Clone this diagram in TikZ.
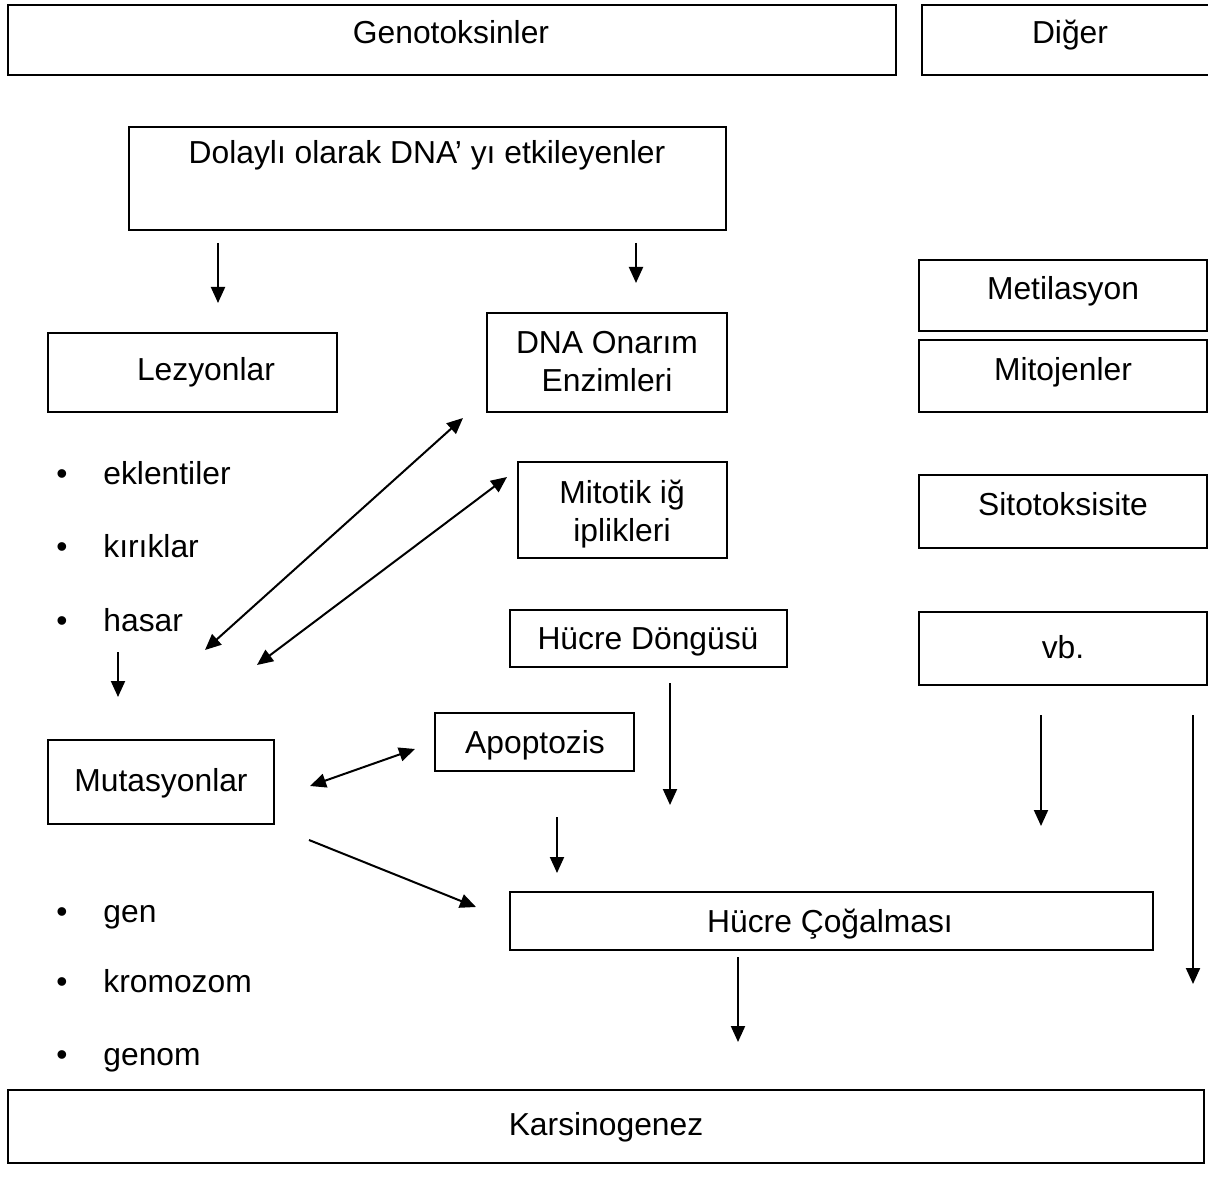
\documentclass[tikz,border=0pt]{standalone}
\usepackage{fontspec}
\setmainfont{Liberation Sans}
\usetikzlibrary{arrows.meta}
\begin{document}
\begin{tikzpicture}[x=0.5pt,y=-0.5pt,
  box/.style={draw=black, line width=1pt, inner sep=0pt, rectangle},
  lbl/.style={anchor=base, inner sep=0pt, font=\fontsize{15.9pt}{19pt}\selectfont},
  lft/.style={anchor=base west, inner sep=0pt, font=\fontsize{15.9pt}{19pt}\selectfont},
  arr/.style={line width=1pt, -{Triangle[length=8pt,width=7pt]}},
  darr/.style={line width=1pt, {Triangle[length=8pt,width=7pt]}-{Triangle[length=8pt,width=7pt]}}]
\useasboundingbox (0,0) rectangle (1208,1202);
% boxes
\node[box, minimum width=444pt, minimum height=35pt] (geno) at (452,40) {};
\node[box, minimum width=144pt, minimum height=35pt] (diger) at (1066,40) {};
\node[box, minimum width=298.5pt, minimum height=51.5pt] (dolayli) at (427.5,178.5) {};
\node[box, minimum width=144.5pt, minimum height=39.5pt] (lez) at (192.5,372.5) {};
\node[box, minimum width=120pt, minimum height=49.5pt] (onarim) at (607,362.5) {};
\node[box, minimum width=144pt, minimum height=35.5pt] (metil) at (1063,295.5) {};
\node[box, minimum width=144pt, minimum height=36pt] (mitoj) at (1063,376) {};
\node[box, minimum width=104.5pt, minimum height=48pt] (mitotik) at (622.5,510) {};
\node[box, minimum width=144pt, minimum height=36.5pt] (sito) at (1063,511.5) {};
\node[box, minimum width=138.5pt, minimum height=28.5pt] (dongu) at (648.5,638.5) {};
\node[box, minimum width=144pt, minimum height=36.5pt] (vb) at (1063,648.5) {};
\node[box, minimum width=99.5pt, minimum height=29pt] (apop) at (534.5,742) {};
\node[box, minimum width=113pt, minimum height=42pt] (mutas) at (161,782) {};
\node[box, minimum width=321.5pt, minimum height=29pt] (cogal) at (831.5,921) {};
\node[box, minimum width=598pt, minimum height=36.5pt] (karsi) at (606,1126.5) {};
% labels
\node[lbl] (genoT) at (451,44) {Genotoksinler};
\node[lbl] (digerT) at (1070,44) {Diğer};
\node[lbl] (dolayliT) at (427,164) {Dolaylı olarak DNA’ yı etkileyenler};
\node[lbl] (lezT) at (206,381) {Lezyonlar};
\node[lbl] (onarimT1) at (607,354) {DNA Onarım};
\node[lbl] (onarimT2) at (607,392) {Enzimleri};
\node[lbl] (metilT) at (1063,300) {Metilasyon};
\node[lbl] (mitojT) at (1063,381) {Mitojenler};
\node[lbl] (mitotikT1) at (622,504) {Mitotik iğ};
\node[lbl] (mitotikT2) at (622,541) {iplikleri};
\node[lbl] (sitoT) at (1063,516) {Sitotoksisite};
\node[lbl] (donguT) at (648,649) {Hücre Döngüsü};
\node[lbl] (vbT) at (1063,658) {vb.};
\node[lbl] (apopT) at (535,753) {Apoptozis};
\node[lbl] (mutasT) at (161,791) {Mutasyonlar};
\node[lbl] (cogalT) at (830,932) {Hücre Çoğalması};
\node[lbl] (karsiT) at (606,1135) {Karsinogenez};
% bullet lists
\node[lbl] (b1) at (62,485) {•};
\node[lft] (l1) at (103,485) {eklentiler};
\node[lbl] (b2) at (62,558) {•};
\node[lft] (l2) at (103,558) {kırıklar};
\node[lbl] (b3) at (62,631) {•};
\node[lft] (l3) at (103,631) {hasar};
\node[lbl] (b4) at (62,922) {•};
\node[lft] (l4) at (103,922) {gen};
\node[lbl] (b5) at (62,992) {•};
\node[lft] (l5) at (103,992) {kromozom};
\node[lbl] (b6) at (62,1065) {•};
\node[lft] (l6) at (103,1065) {genom};
% arrow end points
\coordinate (a1s) at (218,243); \coordinate (a1e) at (218,303);
\coordinate (a2s) at (636,243); \coordinate (a2e) at (636,283);
\coordinate (d1a) at (205,650); \coordinate (d1b) at (463,418);
\coordinate (d2a) at (257,665); \coordinate (d2b) at (507,477);
\coordinate (a3s) at (118,652); \coordinate (a3e) at (118,697);
\coordinate (d3a) at (310,786); \coordinate (d3b) at (415,749);
\coordinate (a4s) at (309,840); \coordinate (a4e) at (476,907);
\coordinate (a5s) at (670,683); \coordinate (a5e) at (670,805);
\coordinate (a6s) at (557,817); \coordinate (a6e) at (557,873);
\coordinate (a7s) at (1041,715); \coordinate (a7e) at (1041,826);
\coordinate (a8s) at (1193,715); \coordinate (a8e) at (1193,984);
\coordinate (a9s) at (738,957); \coordinate (a9e) at (738,1042);
\draw[arr] (a1s) -- (a1e);
\draw[arr] (a2s) -- (a2e);
\draw[darr] (d1a) -- (d1b);
\draw[darr] (d2a) -- (d2b);
\draw[arr] (a3s) -- (a3e);
\draw[darr] (d3a) -- (d3b);
\draw[arr] (a4s) -- (a4e);
\draw[arr] (a5s) -- (a5e);
\draw[arr] (a6s) -- (a6e);
\draw[arr] (a7s) -- (a7e);
\draw[arr] (a8s) -- (a8e);
\draw[arr] (a9s) -- (a9e);
\end{tikzpicture}
\end{document}
